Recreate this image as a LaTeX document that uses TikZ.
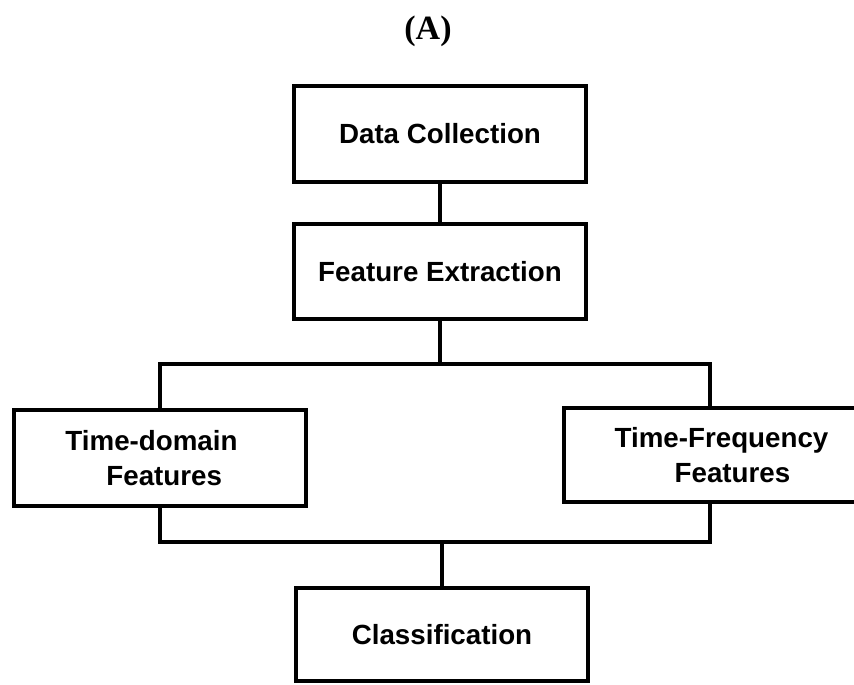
\documentclass[tikz,border=0pt]{standalone}
\usepackage{fontspec}
\setmainfont{Liberation Sans}
\newfontfamily\titlefont{Liberation Serif}
\begin{document}
\begin{tikzpicture}[x=0.75pt,y=-0.75pt,
  stagebox/.style={draw=black,line width=3pt,fill=white,rectangle,
    minimum width=219pt,inner sep=0pt,align=center,
    font=\bfseries\fontsize{20.8}{26.25}\selectfont},
  link/.style={draw=black,line width=3pt,line join=miter}]
\useasboundingbox (0,0) rectangle (854,685);
\clip (0,0) rectangle (854,685);

% title
\node[font=\titlefont\bfseries\fontsize{25.5}{30}\selectfont] (title) at (428,31) {(A)};

% processing stages
\node[stagebox,minimum height=72pt] (dc) at (440,134) {Data Collection};
\node[stagebox,minimum height=71.25pt] (fe) at (440,271.5) {Feature Extraction};
\node[stagebox,minimum height=72pt,align=left] (td) at (160,458)
  {Time-domain\hspace*{12.75pt}\\\hspace*{30.75pt}Features};
\node[stagebox,minimum height=70.5pt,align=left] (tf) at (710,455)
  {\hspace*{17.25pt}Time-Frequency\\\hspace*{62.25pt}Features};
\node[stagebox,minimum height=69.75pt] (cl) at (442,634.5) {Classification};

% bus levels
\coordinate (split) at (440,363.5);
\coordinate (merge) at (440,542);

% connectors
\draw[link] (dc) -- (fe);
\draw[link] (fe.south) -- (fe.south |- split);
\draw[link] (td.north) -- (td.north |- split) -- (tf.north |- split) -- (tf.north);
\draw[link] (td.south) -- (td.south |- merge) -- (tf.south |- merge) -- (tf.south);
\draw[link] (merge) -- (merge -| cl.north) -- (cl.north);
\end{tikzpicture}
\end{document}
